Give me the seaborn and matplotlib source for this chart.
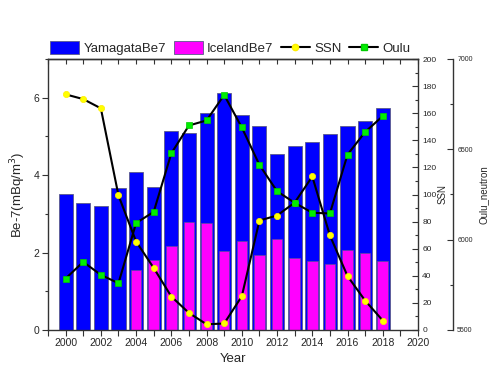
import matplotlib
matplotlib.use("Agg")
import matplotlib.pyplot as plt
import seaborn as sns
import numpy as np
from matplotlib.patches import Patch
from matplotlib.lines import Line2D
from matplotlib.ticker import MultipleLocator, NullFormatter

years = [2000, 2001, 2002, 2003, 2004, 2005, 2006, 2007, 2008, 2009,
         2010, 2011, 2012, 2013, 2014, 2015, 2016, 2017, 2018]
yamagata_be7 = [3.52, 3.27, 3.20, 3.67, 4.07, 3.69, 5.14, 5.10, 5.61, 6.13,
                5.56, 5.27, 4.55, 4.75, 4.85, 5.06, 5.26, 5.39, 5.73]
iceland_years = [2004, 2005, 2006, 2007, 2008, 2009, 2010, 2011, 2012,
                 2013, 2014, 2015, 2016, 2017, 2018]
iceland_be7 = [1.55, 1.81, 2.16, 2.80, 2.76, 2.05, 2.29, 1.94, 2.36,
               1.86, 1.78, 1.70, 2.06, 1.99, 1.78]
ssn = [173.9, 170.4, 163.6, 99.3, 65.3, 45.8, 24.7, 12.6, 4.2, 4.8,
       24.9, 80.8, 84.5, 94.0, 113.3, 69.8, 39.8, 21.7, 7.0]
oulu = [5785, 5877, 5805, 5759, 6092, 6154, 6478, 6632, 6660, 6801,
        6621, 6414, 6268, 6204, 6149, 6145, 6471, 6596, 6684]

sns.set_theme(style="ticks")
plt.rcParams['font.family'] = ['Liberation Sans', 'DejaVu Sans']

fig = plt.figure(figsize=(4.93, 3.70), dpi=100)
ax = fig.add_axes([48/493, 40/370, 370/493, 271/370])

blue = '#0000FF'
magenta = '#FF00FF'
edge = '#5a5a8a'

sns.barplot(x=years, y=yamagata_be7, native_scale=True, width=0.8,
            color=blue, saturation=1, edgecolor=edge, linewidth=0.6,
            errorbar=None, ax=ax)
sns.barplot(x=iceland_years, y=iceland_be7, native_scale=True, width=0.6,
            color=magenta, saturation=1, edgecolor=edge, linewidth=0.4,
            errorbar=None, ax=ax)

ax.set_xlim(1999, 2020)
ax.set_ylim(0, 7)
ax.xaxis.set_major_locator(MultipleLocator(2))
ax.xaxis.set_minor_locator(MultipleLocator(1))
ax.yaxis.set_major_locator(MultipleLocator(2))
ax.yaxis.set_minor_locator(MultipleLocator(1))
ax.tick_params(axis='x', which='both', direction='out', length=4, width=0.8,
               labelsize=7.5, color='#333333', pad=2, top=False)
ax.tick_params(axis='y', which='major', direction='out', length=4, width=0.8,
               labelsize=7.5, color='#333333', pad=2)
ax.tick_params(axis='y', which='minor', direction='out', length=2.5, width=0.8,
               color='#333333')
ax.set_xlabel('Year', fontsize=9.5, labelpad=3)
ax.set_ylabel('Be-7(mBq/m$^3$)', fontsize=9.5, labelpad=4)
for s in ax.spines.values():
    s.set_color('#333333')
    s.set_linewidth(1.0)

# top inward ticks
top = ax.secondary_xaxis('top')
top.xaxis.set_major_locator(MultipleLocator(1))
top.xaxis.set_major_formatter(NullFormatter())
top.tick_params(axis='x', direction='in', length=3.5, width=0.8, color='#333333')
top.spines['top'].set_color('#333333')
top.spines['top'].set_linewidth(1.0)

# SSN axis
ax1 = ax.twinx()
sns.lineplot(x=years, y=ssn, ax=ax1, color='black', linewidth=1.5,
             marker='o', markersize=4.5, markerfacecolor='#FFFF00',
             markeredgecolor='#FFEE00', markeredgewidth=0.5)
ax1.set_ylim(0, 200)
ax1.yaxis.set_major_locator(MultipleLocator(20))
ax1.yaxis.set_minor_locator(MultipleLocator(10))
ax1.tick_params(axis='y', which='major', direction='in', length=4, width=0.8,
                labelsize=6, color='#333333', pad=3)
ax1.tick_params(axis='y', which='minor', direction='in', length=2.5, width=0.8,
                color='#333333')
ax1.set_ylabel('SSN', fontsize=7, labelpad=1)
for s in ax1.spines.values():
    s.set_visible(False)

# Oulu axis
ax2 = ax.twinx()
ax2.spines['right'].set_position(('axes', 405/370))
sns.lineplot(x=years, y=oulu, ax=ax2, color='black', linewidth=1.5,
             marker='s', markersize=4, markerfacecolor='#00EE00',
             markeredgecolor='#00CC00', markeredgewidth=0.5)
ax2.set_ylim(5500, 7000)
ax2.yaxis.set_major_locator(MultipleLocator(500))
ax2.yaxis.set_minor_locator(MultipleLocator(250))
ax2.tick_params(axis='y', which='major', direction='in', length=4, width=0.8,
                labelsize=5, color='#333333', pad=3)
ax2.tick_params(axis='y', which='minor', direction='in', length=2.5, width=0.8,
                color='#333333')
ax2.set_ylabel('Oulu_neutron', fontsize=7, labelpad=4)
for k, s in ax2.spines.items():
    s.set_visible(k == 'right')
ax2.spines['right'].set_color('#333333')
ax2.spines['right'].set_linewidth(1.0)
ax.set_xlim(1999, 2020)

handles = [
    Patch(facecolor=blue, edgecolor=edge, linewidth=0.6),
    Patch(facecolor=magenta, edgecolor=edge, linewidth=0.6),
    Line2D([], [], color='black', linewidth=1.5, marker='o', markersize=4.5,
           markerfacecolor='#FFFF00', markeredgecolor='#FFEE00'),
    Line2D([], [], color='black', linewidth=1.5, marker='s', markersize=4,
           markerfacecolor='#00EE00', markeredgecolor='#00CC00'),
]
labels = ['YamagataBe7', 'IcelandBe7', 'SSN', 'Oulu']
ax.legend(handles, labels, loc='lower left', bbox_to_anchor=(-0.005, 1.0),
          ncol=4, frameon=False, fontsize=9.5, borderaxespad=0.2,
          borderpad=0.1, handlelength=2.2, handleheight=1.15,
          handletextpad=0.35, columnspacing=0.55)

fig.savefig('out.png', dpi=100)
